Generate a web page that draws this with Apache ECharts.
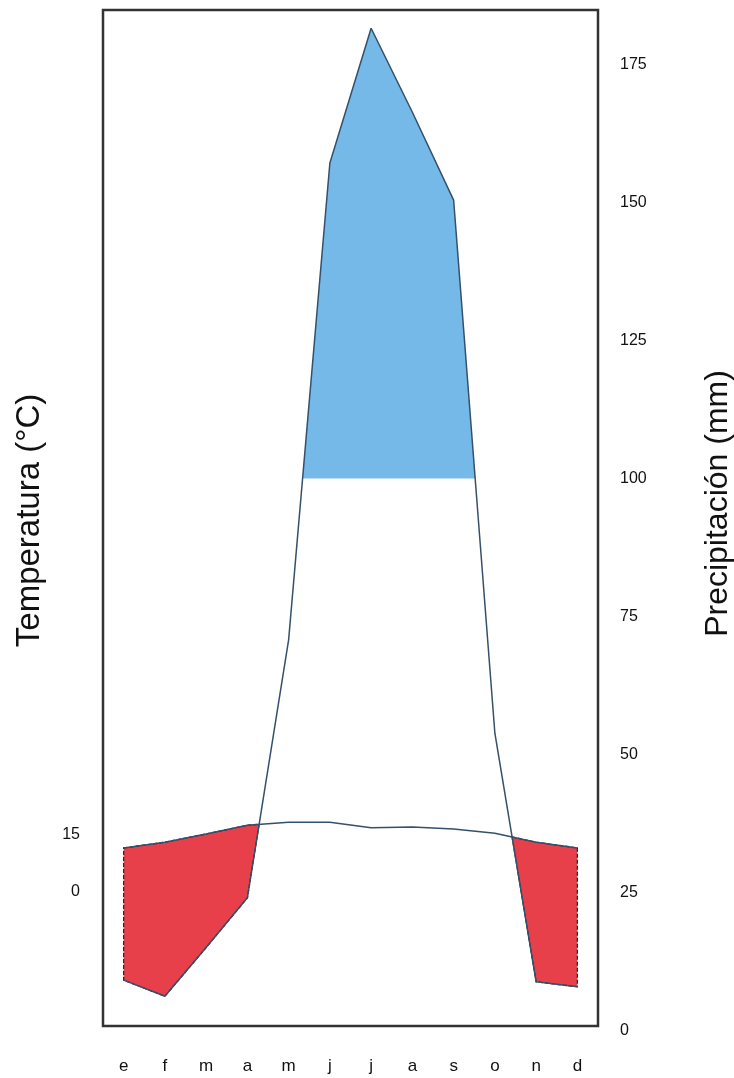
<!DOCTYPE html>
<html>
<head>
<meta charset="utf-8">
<script src="https://cdn.jsdelivr.net/npm/echarts@6/dist/echarts.min.js"></script>
<style>
html,body{margin:0;padding:0;background:#fff;}
#chart{width:734px;height:1078px;}
</style>
</head>
<body>
<div id="chart"></div>
<script>
// ---- data ----
const months = ['e','f','m','a','m','j','j','a','s','o','n','d'];
const precipitation = [9.2, 6.3, 15.1, 24.1, 70.8, 157.1, 181.5, 166.3, 150.4, 53.9, 8.9, 8.0]; // mm
const temperature = [11.6, 13.1, 15.3, 17.6, 18.4, 18.4, 16.9, 17.1, 16.6, 15.5, 13.1, 11.6]; // °C
const precipTicks = [0, 25, 50, 75, 100, 125, 150, 175];
const tempTicks = [0, 15];
const humidThreshold = 100;

const FONT = 'Liberation Sans, Arial, sans-serif';
const chart = echarts.init(document.getElementById('chart'), null, {renderer: 'canvas'});

function regionsAbove(A, B) {
  const polys = [];
  let top = null, bot = null;
  for (let i = 0; i < A.length; i++) {
    const d = B[i][1] - A[i][1];
    if (i > 0) {
      const dp = B[i - 1][1] - A[i - 1][1];
      if ((dp > 0) !== (d > 0)) {
        const t = dp / (dp - d);
        const p = [A[i - 1][0] + t * (A[i][0] - A[i - 1][0]), A[i - 1][1] + t * (A[i][1] - A[i - 1][1])];
        if (top) { top.push(p); polys.push(top.concat(bot.reverse())); top = null; bot = null; }
        else { top = [p]; bot = []; }
      }
    }
    if (d > 0) {
      if (!top) { top = []; bot = []; }
      top.push(A[i]); bot.push(B[i]);
    }
  }
  if (top) polys.push(top.concat(bot.reverse()));
  return polys;
}

function renderFills(params, api) {
  if (params.dataIndex !== 0) return;
  const P = precipitation.map((v, i) => api.coord([i, v]));
  const yThr = api.coord([0, humidThreshold])[1];
  const Thr = P.map(p => [p[0], yThr]);
  const T = temperature.map((v, i) => [P[i][0], chart.convertToPixel({yAxisIndex: 1}, v)]);
  const children = [];
  regionsAbove(P, Thr).forEach(pts => children.push({
    type: 'polygon', shape: {points: pts},
    style: {fill: '#74b9e8', stroke: null}
  }));
  regionsAbove(T, P).forEach(pts => children.push({
    type: 'polygon', shape: {points: pts},
    style: {fill: '#e8404a', stroke: '#2a2a2a', lineWidth: 1.3, lineDash: [4, 2]}
  }));
  return {type: 'group', children};
}

const option = {
  animation: false,
  backgroundColor: '#ffffff',
  textStyle: {fontFamily: FONT},
  grid: [
    {left: 103, right: 136, top: 10, bottom: 47, show: false, containLabel: false, outerBoundsMode: 'none'},
    {left: 103, right: 136, top: 10, bottom: 52, show: true, containLabel: false, outerBoundsMode: 'none',
     borderColor: '#333', borderWidth: 2.5, backgroundColor: 'transparent'}
  ],
  xAxis: [
    {
      type: 'category', gridIndex: 0, data: months, boundaryGap: true,
      axisLine: {show: false}, axisTick: {show: false}, splitLine: {show: false},
      axisLabel: {interval: 0, margin: 27, fontSize: 17, color: '#111', fontFamily: FONT}
    },
    {type: 'category', gridIndex: 1, data: months, show: false}
  ],
  yAxis: [
    {
      type: 'value', gridIndex: 0, position: 'right', min: 0, max: 184.8,
      axisLine: {show: false}, axisTick: {show: false}, splitLine: {show: false},
      axisLabel: {customValues: precipTicks, margin: 22, fontSize: 16, color: '#111', fontFamily: FONT},
      name: 'Precipitación (mm)', nameLocation: 'middle', nameRotate: 90, nameGap: 104,
      nameTextStyle: {fontSize: 32, color: '#111', fontFamily: FONT, padding: [0, 0, 0, 34]}
    },
    {
      type: 'value', gridIndex: 0, position: 'left', min: -36.85, max: 233.3,
      axisLine: {show: false}, axisTick: {show: false}, splitLine: {show: false},
      axisLabel: {customValues: tempTicks, margin: 23, fontSize: 16, color: '#111', fontFamily: FONT},
      name: 'Temperatura (°C)', nameLocation: 'middle', nameRotate: 90, nameGap: 57,
      nameTextStyle: {fontSize: 33, color: '#111', fontFamily: FONT}
    },
    {type: 'value', gridIndex: 1, show: false}
  ],
  series: [
    {
      type: 'custom', xAxisIndex: 0, yAxisIndex: 0, silent: true, z: 1,
      data: [[0, 0]], renderItem: renderFills
    },
    {
      type: 'line', name: 'Precipitación', xAxisIndex: 0, yAxisIndex: 0, data: precipitation,
      symbol: 'none', z: 3, lineStyle: {color: '#34506a', width: 1.5}
    },
    {
      type: 'line', name: 'Temperatura', xAxisIndex: 0, yAxisIndex: 1, data: temperature,
      symbol: 'none', z: 3, lineStyle: {color: '#34506a', width: 1.5}
    }
  ]
};
chart.setOption(option);
</script>
</body>
</html>
